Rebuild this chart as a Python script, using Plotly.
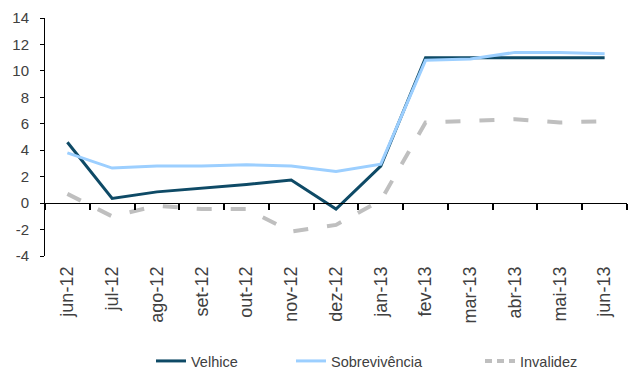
import plotly.graph_objects as go

months = ["jun-12", "jul-12", "ago-12", "set-12", "out-12", "nov-12", "dez-12",
          "jan-13", "fev-13", "mar-13", "abr-13", "mai-13", "jun-13"]
velhice = [4.6, 0.35, 0.85, 1.1, 1.4, 1.75, -0.45, 2.8, 11.0, 11.0, 11.0, 11.0, 11.0]
sobrevivencia = [3.8, 2.65, 2.8, 2.8, 2.9, 2.8, 2.4, 2.95, 10.8, 10.9, 11.4, 11.4, 11.3]
invalidez = [0.7, -1.0, -0.2, -0.45, -0.45, -2.15, -1.65, 0.2, 6.1, 6.2, 6.35, 6.1, 6.2]

y_ticks = [-4, -2, 0, 2, 4, 6, 8, 10, 12, 14]
y_tick_text = ["-4", "-2", "0", "2", "4", "6", "8", "10", "12", "14"]

y_min, y_max = -4, 14
family = "Liberation Sans, Arial, sans-serif"
text_color = "#404040"
grey = "#BFBFBF"

fig = go.Figure()
fig.add_trace(go.Scatter(x=months, y=velhice, name="Velhice", mode="lines",
                         legend="legend",
                         line=dict(color="#0E4A66", width=3)))
fig.add_trace(go.Scatter(x=months, y=sobrevivencia, name="Sobrevivência", mode="lines",
                         legend="legend2",
                         line=dict(color="#9CCFFF", width=3)))
fig.add_trace(go.Scatter(x=months, y=invalidez, name="Invalidez", mode="lines",
                         showlegend=False,
                         line=dict(color=grey, width=4, dash="15px,19px")))
# legend key for Invalidez with a tighter dash so several dashes fit in the swatch
fig.add_trace(go.Scatter(x=[None], y=[None], name="Invalidez", mode="lines",
                         legend="legend3", hoverinfo="skip",
                         line=dict(color=grey, width=4, dash="7px,5px")))
# category axis drawn along y = 0, ticks between months
fig.add_trace(go.Scatter(x=months, y=[None] * len(months), xaxis="x2", mode="lines",
                         showlegend=False, hoverinfo="skip"))

zero_pos = (0 - y_min) / (y_max - y_min)


def legend_box(left_px):
    return dict(xref="container", x=left_px / 630, xanchor="left",
                yref="container", y=1 - 361 / 370, yanchor="middle",
                font=dict(family=family, size=14.5, color=text_color),
                bgcolor="rgba(0,0,0,0)")


fig.update_layout(
    width=630, height=370,
    margin=dict(l=45, r=3, t=18, b=114, autoexpand=False),
    paper_bgcolor="white", plot_bgcolor="white",
    font=dict(family=family, size=14, color=text_color),
    showlegend=True,
    legend=legend_box(151),
    legend2=legend_box(291),
    legend3=legend_box(480),
    xaxis=dict(type="category", range=[-0.5, 12.5], showline=False, ticks="",
               tickangle=-90, showgrid=False, zeroline=False, automargin=False,
               tickfont=dict(family=family, size=18, color=text_color),
               ticklabelstandoff=6),
    xaxis2=dict(type="category", range=[-0.5, 12.5], overlaying="x", anchor="free",
                position=zero_pos, showline=True, linecolor="black", linewidth=1,
                ticks="outside", ticklen=6, tickcolor="black", tickwidth=1.5,
                tickson="boundaries", showticklabels=False, showgrid=False,
                zeroline=False),
    yaxis=dict(range=[y_min, y_max], tickvals=y_ticks, ticktext=y_tick_text,
               showline=True, linecolor="black",
               linewidth=1, ticks="outside", ticklen=4, tickcolor="black",
               showgrid=False, zeroline=False, automargin=False,
               tickfont=dict(family=family, size=15, color=text_color),
               ticklabelstandoff=8),
)

fig.write_html("out.html")
